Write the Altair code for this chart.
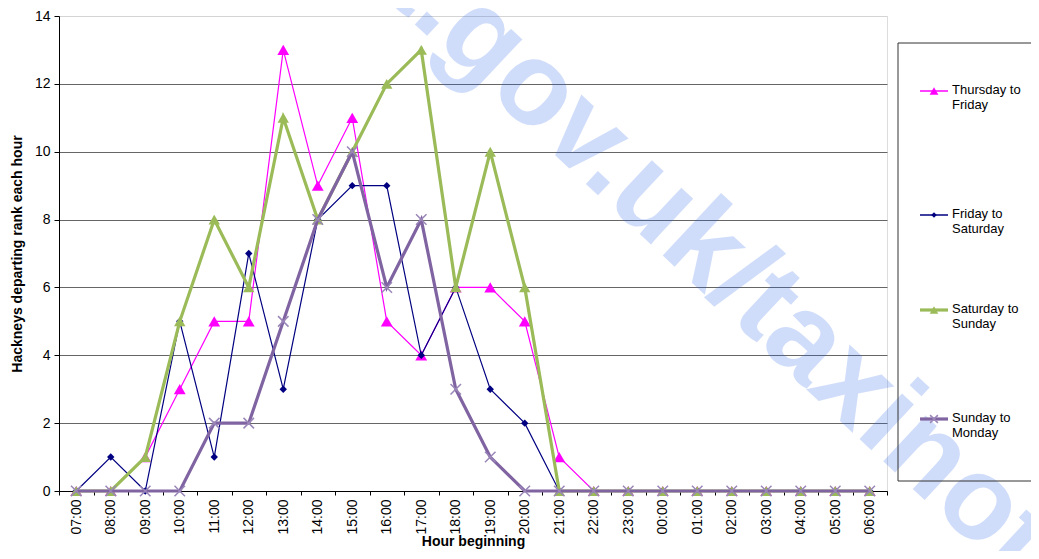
import altair as alt
import pandas as pd

hours = ["07:00", "08:00", "09:00", "10:00", "11:00", "12:00", "13:00", "14:00",
         "15:00", "16:00", "17:00", "18:00", "19:00", "20:00", "21:00", "22:00",
         "23:00", "00:00", "01:00", "02:00", "03:00", "04:00", "05:00", "06:00"]

thu_fri = [0, 0, 1, 3, 5, 5, 13, 9, 11, 5, 4, 6, 6, 5, 1, 0, 0, 0, 0, 0, 0, 0, 0, 0]
fri_sat = [0, 1, 0, 5, 1, 7, 3, 8, 9, 9, 4, 6, 3, 2, 0, 0, 0, 0, 0, 0, 0, 0, 0, 0]
sat_sun = [0, 0, 1, 5, 8, 6, 11, 8, 10, 12, 13, 6, 10, 6, 0, 0, 0, 0, 0, 0, 0, 0, 0, 0]
sun_mon = [0, 0, 0, 0, 2, 2, 5, 8, 10, 6, 8, 3, 1, 0, 0, 0, 0, 0, 0, 0, 0, 0, 0, 0]

series_names = ["Thursday to Friday", "Friday to Saturday", "Saturday to Sunday", "Sunday to Monday"]
legend_labels = ["Thursday to\nFriday", "Friday to\nSaturday", "Saturday to\nSunday", "Sunday to\nMonday"]
y_ticks = [0, 2, 4, 6, 8, 10, 12, 14]

rows = []
for name, vals in zip(series_names, [thu_fri, fri_sat, sat_sun, sun_mon]):
    for h, v in zip(hours, vals):
        rows.append({"hour": h, "series": name, "value": v})
df = pd.DataFrame(rows)

FONT = "Liberation Sans"
XSHAPE = "M-1,-1L1,1M1,-1L-1,1"

styles = {
    "Thursday to Friday": dict(color="#FF00FF", width=1.2, shape="triangle-up", filled=True, size=140, pcolor="#FF00FF", sw=1),
    "Friday to Saturday": dict(color="#000080", width=1.2, shape="diamond", filled=True, size=55, pcolor="#000080", sw=1),
    "Saturday to Sunday": dict(color="#9BBB59", width=3.2, shape="triangle-up", filled=True, size=130, pcolor="#9BBB59", sw=1),
    "Sunday to Monday": dict(color="#8064A2", width=3.2, shape=XSHAPE, filled=False, size=110, pcolor="#9A86B8", sw=1.5),
}

x_enc = alt.X(
    "hour:N", sort=hours,
    scale=alt.Scale(type="band", domain=hours, paddingInner=0, paddingOuter=0),
    axis=alt.Axis(
        title="Hour beginning", titleFont=FONT, titleFontSize=14, titleFontWeight="bold",
        titleColor="black", titlePadding=0,
        labelFont=FONT, labelFontSize=14, labelColor="black", labelAngle=270, labelPadding=4,
        tickBand="extent", tickSize=4, tickColor="black", domainColor="black", grid=False,
    ),
)
y_enc = alt.Y(
    "value:Q",
    scale=alt.Scale(domain=[0, 14], nice=False),
    axis=alt.Axis(
        values=y_ticks, title="Hackneys departing rank each hour", titleFont=FONT,
        titleFontSize=14, titleFontWeight="bold", titleColor="black", titlePadding=10,
        labelFont=FONT, labelFontSize=14, labelColor="black", labelPadding=4,
        tickSize=5, tickColor="black", domainColor="black",
        grid=True,
        gridColor={"condition": {"test": "datum.value === 14", "value": "#D4D4D4"}, "value": "#666666"},
        gridWidth=1,
    ),
)

one = pd.DataFrame({"a": [0]})
layers = []

# watermark
wm_color = "#2864EB"
wm = dict(font=FONT, fontWeight="bold", fontSize=118, angle=43, baseline="alphabetic",
          color=wm_color, opacity=0.21)
layers.append(alt.Chart(one).mark_text(text=".gov.uk/taxinotes", align="left", **wm).encode(
    x=alt.value(350), y=alt.value(3)))
layers.append(alt.Chart(one).mark_text(text="www.nidirect", align="right", **wm).encode(
    x=alt.value(350), y=alt.value(3)))

for name in series_names:
    s = styles[name]
    base = alt.Chart(df).transform_filter(alt.datum.series == name)
    layers.append(base.mark_line(color=s["color"], strokeWidth=s["width"]).encode(x=x_enc, y=y_enc))
    pt = dict(shape=s["shape"], size=s["size"], opacity=1, strokeWidth=s["sw"],
              filled=s["filled"], color=s["pcolor"])
    layers.append(base.mark_point(**pt).encode(x=x_enc, y=y_enc))

# legend box (three sides; right side runs off the page)
box_color = "#333333"
layers.append(alt.Chart(one).mark_rule(color=box_color, strokeWidth=1).encode(
    x=alt.value(839), x2=alt.value(1010), y=alt.value(27)))
layers.append(alt.Chart(one).mark_rule(color=box_color, strokeWidth=1).encode(
    x=alt.value(839), y=alt.value(27), y2=alt.value(465)))
layers.append(alt.Chart(one).mark_rule(color=box_color, strokeWidth=1).encode(
    x=alt.value(839), x2=alt.value(1010), y=alt.value(465)))

legend_y = [75, 199, 294, 403]
for name, label, ly in zip(series_names, legend_labels, legend_y):
    s = styles[name]
    lw = 1.5 if s["width"] < 2 else 3.2
    layers.append(alt.Chart(one).mark_rule(color=s["color"], strokeWidth=lw).encode(
        x=alt.value(861), x2=alt.value(889), y=alt.value(ly)))
    pt = dict(shape=s["shape"], size=s["size"] * 0.55, opacity=1, strokeWidth=s["sw"],
              filled=s["filled"], color=s["pcolor"])
    layers.append(alt.Chart(one).mark_point(**pt).encode(x=alt.value(875), y=alt.value(ly)))
    layers.append(alt.Chart(one).mark_text(
        text=label, lineBreak="\n", font=FONT, fontSize=13, color="black",
        align="left", baseline="top", lineHeight=15,
    ).encode(x=alt.value(893), y=alt.value(ly - 7)))

chart = alt.layer(*layers).properties(
    width=828, height=475,
    autosize=alt.AutoSizeParams(type="none"),
    padding={"left": 51, "top": 8, "right": 144, "bottom": 60},
).configure_view(stroke=None).configure(background="white")

chart.save("out.html", embed_options={"renderer": "svg", "actions": False})
